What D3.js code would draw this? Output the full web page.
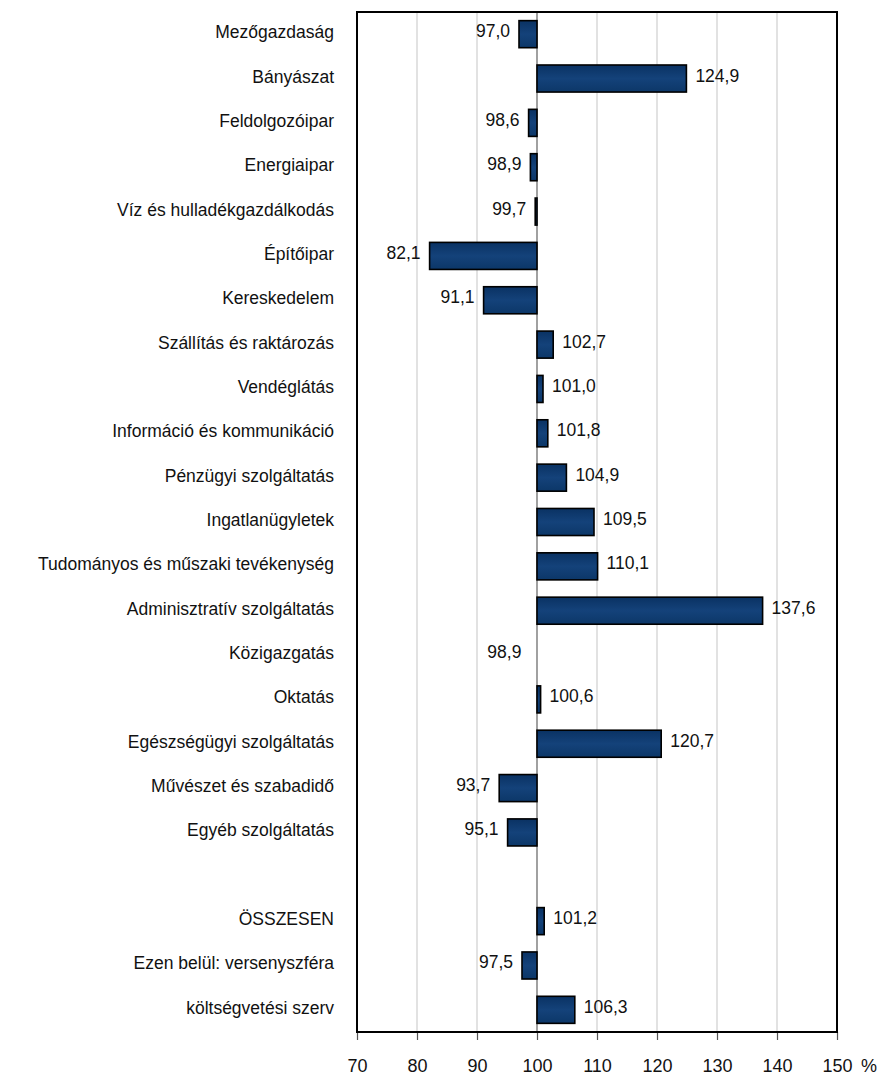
<!DOCTYPE html>
<html><head><meta charset="utf-8">
<script src="https://cdn.jsdelivr.net/npm/d3@7"></script>
<style>body{margin:0;background:#fff}svg{display:block}text{font-family:"Liberation Sans",Arial,sans-serif}</style>
</head><body><svg id="c" width="881" height="1077"></svg>
<script>
const categories = ["Mezőgazdaság","Bányászat","Feldolgozóipar","Energiaipar","Víz és hulladékgazdálkodás","Építőipar","Kereskedelem","Szállítás és raktározás","Vendéglátás","Információ és kommunikáció","Pénzügyi szolgáltatás","Ingatlanügyletek","Tudományos és műszaki tevékenység","Adminisztratív szolgáltatás","Közigazgatás","Oktatás","Egészségügyi szolgáltatás","Művészet és szabadidő","Egyéb szolgáltatás","","ÖSSZESEN","Ezen belül: versenyszféra","költségvetési szerv"];
const values = [97.0,124.9,98.6,98.9,99.7,82.1,91.1,102.7,101.0,101.8,104.9,109.5,110.1,137.6,98.9,100.6,120.7,93.7,95.1,null,101.2,97.5,106.3];
const hiddenBars = ["Közigazgatás"];
const xTicks = [70,80,90,100,110,120,130,140,150];
const baseValue = 100;

const svg = d3.select("#c");
const m = {l:357, r:837, t:12, b:1032};
const FS = 17.5;
const x = d3.scaleLinear().domain([70,150]).range([m.l,m.r]);
const y = d3.scaleBand().domain(categories.map((c,i)=>i)).range([m.t,m.b]).paddingInner(0.39).paddingOuter(0.195);

const defs = svg.append("defs");
const g = defs.append("linearGradient").attr("id","bg").attr("x1",0).attr("y1",0).attr("x2",0).attr("y2",1);
g.append("stop").attr("offset","0%").attr("stop-color","#0a3263");
g.append("stop").attr("offset","50%").attr("stop-color","#14427a");
g.append("stop").attr("offset","100%").attr("stop-color","#0c3768");

// gridlines
svg.append("g").selectAll("line").data(xTicks.filter(t=>t>70&&t<150&&t!==baseValue)).join("line")
  .attr("x1",d=>x(d)).attr("x2",d=>x(d)).attr("y1",m.t).attr("y2",m.b)
  .attr("stroke","#d9d9d9").attr("stroke-width",1.5);

// x axis
const xa = svg.append("g").attr("transform",`translate(0,${m.b})`)
  .call(d3.axisBottom(x).tickValues(xTicks).tickSize(8).tickPadding(0).tickFormat(d3.format("d")));
xa.select(".domain").remove();
xa.selectAll("line").attr("stroke","#555").attr("stroke-width",1.2);
xa.selectAll("text").attr("dy",null).attr("y",40).attr("font-size",FS+0.5).attr("fill","#111").attr("font-family","Liberation Sans, Arial, sans-serif");
svg.append("text").attr("x",869).attr("y",m.b+40).attr("text-anchor","middle").attr("font-size",FS+0.5).attr("fill","#111").text("%");

const data = categories.map((c,i)=>({c,i,v:values[i]})).filter(d=>d.v!==null);

// baseline at 100
svg.append("line").attr("x1",x(baseValue)).attr("x2",x(baseValue)).attr("y1",m.t).attr("y2",m.b)
  .attr("stroke","#6e6e6e").attr("stroke-width",1.3);

// bars
svg.append("g").selectAll("rect").data(data.filter(d=>!hiddenBars.includes(d.c))).join("rect")
  .attr("x",d=>x(Math.min(d.v,baseValue))).attr("width",d=>Math.abs(x(d.v)-x(baseValue)))
  .attr("y",d=>y(d.i)).attr("height",y.bandwidth())
  .attr("fill","url(#bg)").attr("stroke","#000").attr("stroke-width",1.6);

// value labels
const fmt = v => d3.format(".1f")(v).replace(".",",");
svg.append("g").selectAll("text").data(data).join("text")
  .attr("x",d=> d.v>=baseValue ? x(d.v)+9 : x(d.v)-9)
  .attr("y",d=>y(d.i)+y.bandwidth()/2+3)
  .attr("text-anchor",d=>d.v>=baseValue?"start":"end")
  .attr("font-size",FS).attr("fill","#111").text(d=>fmt(d.v));

// category labels
svg.append("g").selectAll("text").data(categories.map((c,i)=>({c,i})).filter(d=>d.c)).join("text")
  .attr("x",334).attr("y",d=>y(d.i)+y.bandwidth()/2+4)
  .attr("text-anchor","end").attr("font-size",FS).attr("fill","#111").text(d=>d.c);

// frame
svg.append("rect").attr("x",m.l).attr("y",m.t).attr("width",m.r-m.l).attr("height",m.b-m.t)
  .attr("fill","none").attr("stroke","#000").attr("stroke-width",2);
</script></body></html>
